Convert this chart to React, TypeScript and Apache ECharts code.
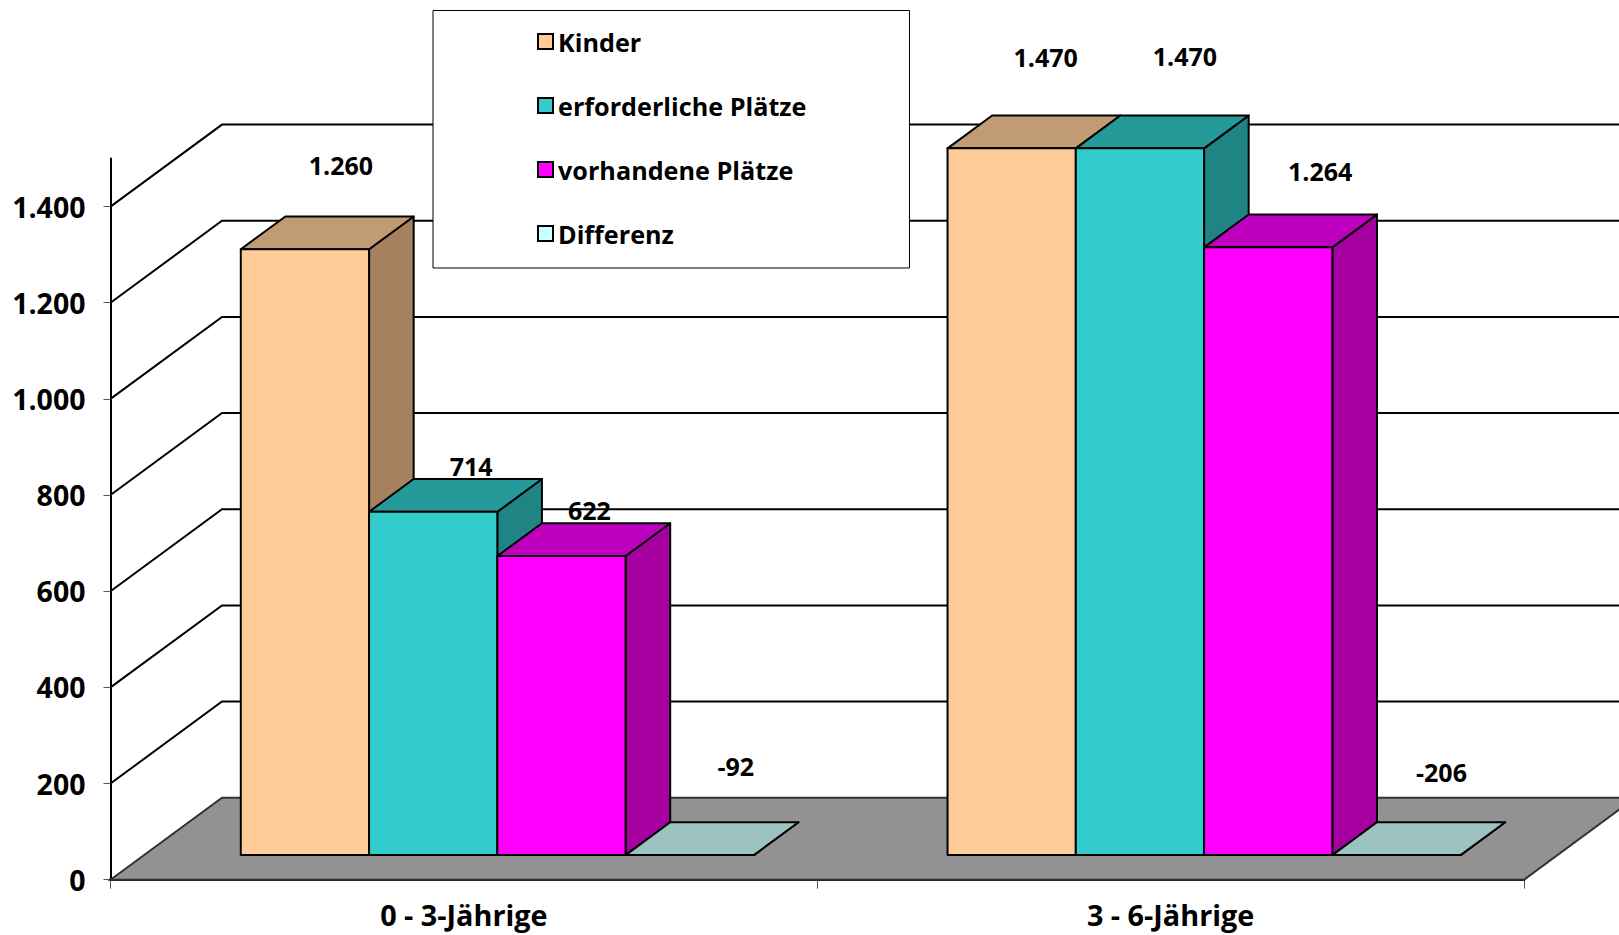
import React, { useEffect, useRef } from "react";
import * as echarts from "echarts";

// Kinder und Betreuungsplätze nach Altersgruppe
const categories = ["0 - 3-Jährige", "3 - 6-Jährige"];
const seriesNames = ["Kinder", "erforderliche Plätze", "vorhandene Plätze", "Differenz"];
const kinder = [1260, 1470];
const erforderlich = [714, 1470];
const vorhanden = [622, 1264];
const differenz = [-92, -206];
const seriesValues = [kinder, erforderlich, vorhanden, differenz];
const yTicks = [0, 200, 400, 600, 800, 1000, 1200, 1400];

const frontColors = ["#FFCC99", "#33CCCC", "#FF00FF", "#CCFFFF"];
const topColors = ["#C09B73", "#269999", "#BF00BF", "#9CC2C2"];
const sideColors = ["#A58160", "#1F8484", "#A600A0", "#85A6A6"];

// Versatz der Beschriftungen gegenüber der Säulenoberkante, je Reihe und Gruppe
const labelOffsets = [
  [[36, -84], [34, -91]],
  [[38, -46], [45, -92]],
  [[28, -46], [52, -76]],
  [[46, -89], [45, -83]],
];

const FONT = '"Open Sans", "Noto Sans", sans-serif';
const LINE = "#000";

// Raumtiefe der Darstellung
const DEPTH_X = 111.5;
const DEPTH_Y = 82;
const GAP_WIDTH = 1.51;
const DEPTH_START = 0.3;
const DEPTH_SPAN = 0.4;

const germanNumber = (v: number) => {
  const abs = Math.abs(v);
  const text = abs >= 1000 ? `${Math.floor(abs / 1000)}.${String(abs % 1000).padStart(3, "0")}` : String(abs);
  return v < 0 ? `-${text}` : text;
};

// Boden und Rückwand mit den Gitterlinien
const renderWall = (params: any, api: any) => {
  const { x, width } = params.coordSys;
  const value = api.value(1);
  const y = api.coord([0, value])[1];
  const right = x + width;
  if (value === 0) {
    return {
      type: "polygon",
      shape: {
        points: [
          [x, y],
          [x + DEPTH_X, y - DEPTH_Y],
          [right + DEPTH_X, y - DEPTH_Y],
          [right, y],
        ],
      },
      style: { fill: "#929292", stroke: "#333", lineWidth: 2 },
    };
  }
  return {
    type: "polyline",
    shape: {
      points: [
        [x, y],
        [x + DEPTH_X, y - DEPTH_Y],
        [right + DEPTH_X, y - DEPTH_Y],
      ],
    },
    style: { fill: "none", stroke: LINE, lineWidth: 2 },
  };
};

// Quader einer Reihe: Seite, Deckel und Front, dazu die Wertbeschriftung
const renderBar = (seriesIndex: number) => (params: any, api: any) => {
  const groupIndex = api.value(0);
  const value = api.value(1);
  const band = api.size([1, 0])[0];
  const barW = band / (seriesNames.length + GAP_WIDTH);
  const bandLeft = api.coord([groupIndex, 0])[0] - band / 2;
  const shiftX = DEPTH_START * DEPTH_X;
  const shiftY = DEPTH_START * DEPTH_Y;
  const spanX = DEPTH_SPAN * DEPTH_X;
  const spanY = DEPTH_SPAN * DEPTH_Y;
  const left = bandLeft + (GAP_WIDTH / 2 + seriesIndex) * barW + shiftX;
  const right = left + barW;
  const base = api.coord([groupIndex, 0])[1] - shiftY;
  const top = api.coord([groupIndex, Math.max(value, 0)])[1] - shiftY;
  const edge = { stroke: LINE, lineWidth: 2, lineJoin: "round" };
  const [offX, offY] = labelOffsets[seriesIndex][groupIndex];
  return {
    type: "group",
    children: [
      {
        type: "polygon",
        shape: { points: [[right, base], [right + spanX, base - spanY], [right + spanX, top - spanY], [right, top]] },
        style: { fill: sideColors[seriesIndex], ...edge },
      },
      {
        type: "polygon",
        shape: { points: [[left, top], [left + spanX, top - spanY], [right + spanX, top - spanY], [right, top]] },
        style: { fill: topColors[seriesIndex], ...edge },
      },
      {
        type: "polygon",
        shape: { points: [[left, base], [left, top], [right, top], [right, base]] },
        style: { fill: frontColors[seriesIndex], ...edge },
      },
      {
        type: "text",
        style: {
          text: germanNumber(value),
          x: (left + right) / 2 + offX,
          y: top + offY,
          fill: "#000",
          font: `700 25px ${FONT}`,
          align: "center",
          verticalAlign: "middle",
        },
      },
    ],
  };
};

export default function App() {
  const ref = useRef<HTMLDivElement>(null);

  useEffect(() => {
    const chart = echarts.init(ref.current!, undefined, { renderer: "svg" });
    chart.setOption({
      animation: false,
      backgroundColor: "#fff",
      textStyle: { fontFamily: FONT },
      grid: { left: 110.5, right: 95, top: 158.5, bottom: 55.3, containLabel: false },
      legend: {
        orient: "vertical",
        left: 433,
        top: 10.5,
        padding: [18.5, 103, 22, 104],
        itemGap: 39,
        itemWidth: 15,
        itemHeight: 15,
        backgroundColor: "#fff",
        borderColor: "#000",
        borderWidth: 1,
        borderRadius: 0,
        selectedMode: false,
        textStyle: { fontSize: 25.2, fontWeight: 700, fontFamily: FONT, color: "#000" },
        data: seriesNames.map((name, i) => ({
          name,
          icon: "rect",
          itemStyle: { color: frontColors[i], borderColor: "#000", borderWidth: 2 },
        })),
      },
      xAxis: {
        type: "category",
        data: categories,
        axisLine: { lineStyle: { color: "#000", width: 3 } },
        axisTick: { show: true, length: 9, lineStyle: { color: "#555", width: 1 } },
        axisLabel: { fontSize: 28.8, fontWeight: 700, fontFamily: FONT, color: "#000", margin: 20 },
      },
      yAxis: {
        type: "value",
        min: 0,
        max: 1500,
        interval: 200,
        axisLine: { show: true, lineStyle: { color: "#000", width: 2 } },
        axisTick: { show: true, length: 7, lineStyle: { color: "#555", width: 1 }, customValues: yTicks },
        axisLabel: {
          fontSize: 28.5,
          fontWeight: 700,
          fontFamily: FONT,
          color: "#000",
          margin: 25,
          formatter: (v: number) => germanNumber(v),
          customValues: yTicks,
        },
        splitLine: { show: false },
      },
      series: [
        {
          type: "custom",
          name: "Rückwand",
          renderItem: renderWall,
          data: yTicks.map((v) => [0, v]),
          encode: { x: 0, y: 1 },
          z: 1,
          silent: true,
        },
        ...seriesNames.map((name, s) => ({
          type: "custom",
          name,
          renderItem: renderBar(s),
          data: seriesValues[s].map((v, i) => [i, v]),
          encode: { x: 0, y: 1 },
          itemStyle: { color: frontColors[s] },
          z: 2 + s,
          silent: true,
        })),
      ],
    });
    return () => chart.dispose();
  }, []);

  return <div ref={ref} style={{ position: "fixed", left: 0, top: 0, width: 1619, height: 935 }} />;
}
